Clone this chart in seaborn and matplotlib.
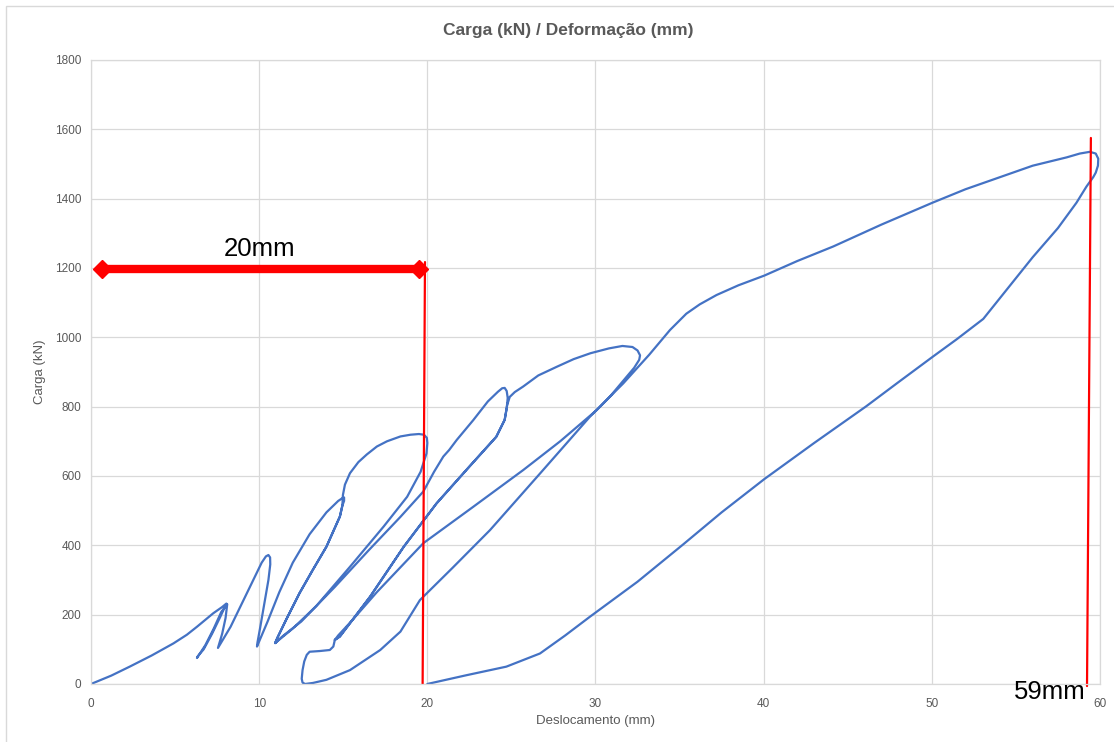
import matplotlib.pyplot as plt
import numpy as np
import pandas as pd
import seaborn as sns
from matplotlib.patches import Rectangle

# Excel-like look: white background, light grid
sns.set_style("whitegrid")
plt.rcParams["font.family"] = ["Liberation Sans Narrow", "Liberation Sans", "DejaVu Sans"]

BLUE = "#4472C4"
GREY_TXT = "#595959"
GRID = "#D9D9D9"

# --- load test loop, branch by branch (mm, kN)
load_p1_x = [0, 1.2, 2.3, 3.6, 4.9, 5.7, 6.3, 7.27, 7.8, 8.05]
load_p1_y = [0, 24, 50, 82, 117, 142, 165, 204, 222, 232]
unload_p1_x = [7.7, 7.2, 6.7, 6.35, 6.3]
unload_p1_y = [195, 145, 100, 80, 75]
reload_p1_x = [6.8, 7.3, 7.75, 8.05, 8.1]
reload_p1_y = [112, 160, 208, 226, 230]
unload_p1b_x = [8.0, 7.8, 7.6, 7.55]
unload_p1b_y = [190, 145, 112, 104]
load_p2_x = [8.3, 9.16, 9.8, 10.15, 10.4, 10.55, 10.65, 10.66]
load_p2_y = [165, 251, 315, 350, 368, 372, 365, 345]
unload_p2_x = [10.55, 10.3, 10.05, 9.9, 9.87]
unload_p2_y = [300, 230, 160, 120, 108]
load_p3_x = [10.5, 11.2, 12.0, 13.0, 14.0, 14.7, 14.95, 15.05]
load_p3_y = [180, 265, 350, 432, 495, 528, 536, 538]
unload_p3_x = [15.05, 14.95, 14.8, 14.0, 13.2, 12.4, 11.6, 11.1, 10.95]
unload_p3_y = [528, 515, 483, 396, 330, 262, 185, 135, 118]
reload_p3_x = [11.1, 11.6, 12.4, 13.2, 14.0, 14.8, 14.95]
reload_p3_y = [135, 185, 262, 330, 396, 483, 515]
load_p4_x = [14.98, 15.1, 15.4, 15.9, 16.4, 17.0, 17.6, 18.4, 19.0, 19.5, 19.8]
load_p4_y = [545, 575, 608, 640, 662, 685, 700, 714, 719, 721, 719]
unload_p4_x = [19.97, 20.0, 19.95, 19.6, 18.8, 17.4, 15.4, 13.4, 12.0, 11.2, 10.95]
unload_p4_y = [710, 695, 665, 612, 540, 454, 338, 225, 160, 128, 118]
load_p5_x = [11.4, 12.5, 14.5, 16.5, 18.4, 19.76, 20.4, 20.95, 21.3, 21.75, 22.73, 23.6,
             24.2, 24.45, 24.6]
load_p5_y = [138, 180, 280, 385, 482, 555, 612, 656, 675, 704, 761, 815, 843, 853, 854]
unload_p5_x = [24.72, 24.78, 24.72, 24.6, 24.1, 22.5, 20.55, 18.6, 16.6, 14.8, 14.5]
unload_p5_y = [845, 825, 795, 762, 713, 627, 521, 396, 252, 137, 127]
reload_p5_x = [14.8, 16.6, 18.6, 20.55, 22.5, 24.1, 24.6, 24.75]
reload_p5_y = [137, 252, 396, 521, 627, 713, 762, 805]
load_p6_x = [24.9, 25.2, 25.7, 26.6, 27.7, 28.7, 29.7, 30.8, 31.6, 32.2, 32.5]
load_p6_y = [828, 842, 858, 890, 915, 937, 954, 968, 975, 972, 962]
unload_p6_x = [32.65, 32.6, 32.3, 31.85, 30.86, 30.07, 27.9, 25.7, 22.7, 19.76, 17.0, 15.5,
               14.7, 14.5]
unload_p6_y = [948, 935, 912, 886, 829, 790, 700, 617, 510, 406, 265, 182, 140, 127]
unload_p6b_x = [14.41, 14.2, 13.6, 13.0, 12.83, 12.68, 12.58, 12.53, 12.58, 12.73]
unload_p6b_y = [108, 98, 95, 93, 84, 65, 40, 15, 4, 0]
load_p7_x = [13.2, 14.0, 15.4, 17.2, 18.4, 19.56, 21.5, 23.73, 26.7, 29.67, 31.65, 33.2,
             34.43, 35.4, 36.2, 37.2, 38.5, 40.04, 42.0, 44.14, 47.0, 50.03, 52.0, 54.05,
             56.0, 58.02, 58.8, 59.4, 59.75, 59.9, 59.88]
load_p7_y = [3, 12, 40, 98, 151, 242, 335, 444, 607, 771, 867, 950,
             1021, 1068, 1095, 1122, 1150, 1178, 1220, 1262, 1325, 1388, 1427, 1462,
             1495, 1519, 1530, 1535, 1530, 1515, 1495]
unload_p7_x = [59.75, 59.6, 59.2, 58.6, 57.5, 56.0, 54.5, 53.06, 51.5, 50.03, 48.0, 46.1,
               43.0, 40.04, 37.5, 35.2, 32.5, 29.67, 28.2, 26.7, 24.7, 22.3, 20.0]
unload_p7_y = [1475, 1462, 1435, 1388, 1315, 1231, 1140, 1053, 995, 943, 870, 801,
               695, 591, 495, 402, 295, 194, 140, 88, 50, 25, 0]

branches = [
    (load_p1_x, load_p1_y), (unload_p1_x, unload_p1_y), (reload_p1_x, reload_p1_y),
    (unload_p1b_x, unload_p1b_y), (load_p2_x, load_p2_y), (unload_p2_x, unload_p2_y),
    (load_p3_x, load_p3_y), (unload_p3_x, unload_p3_y), (reload_p3_x, reload_p3_y),
    (load_p4_x, load_p4_y), (unload_p4_x, unload_p4_y), (load_p5_x, load_p5_y),
    (unload_p5_x, unload_p5_y), (reload_p5_x, reload_p5_y), (load_p6_x, load_p6_y),
    (unload_p6_x, unload_p6_y), (unload_p6b_x, unload_p6b_y), (load_p7_x, load_p7_y),
    (unload_p7_x, unload_p7_y),
]
df = pd.DataFrame({
    "desloc": np.concatenate([b[0] for b in branches]),
    "carga": np.concatenate([b[1] for b in branches]),
})

fig = plt.figure(figsize=(11.14, 7.42), dpi=100)
ax = fig.add_axes([0.0817, 0.0782, 0.9057, 0.8410])

sns.lineplot(data=df, x="desloc", y="carga", sort=False, estimator=None,
             color=BLUE, linewidth=1.6, ax=ax)
ax.lines[0].set_solid_joinstyle("round")

ax.set_xlim(0, 60)
ax.set_ylim(0, 1800)
ax.set_xticks(range(0, 61, 10))
ax.set_yticks(range(0, 1801, 200))
ax.grid(True, color=GRID, linewidth=0.9)
for s in ax.spines.values():
    s.set_color(GRID)
    s.set_linewidth(0.9)
ax.tick_params(axis="both", length=0, labelsize=8.5, labelcolor=GREY_TXT)
ax.tick_params(axis="y", pad=7)
ax.tick_params(axis="x", pad=10)

ax.set_xlabel("Deslocamento (mm)", fontsize=9.5, color=GREY_TXT, va="center")
ax.set_ylabel("Carga (kN)", fontsize=9.5, color=GREY_TXT, va="center")
ax.xaxis.set_label_coords(0.5, -0.059)
ax.yaxis.set_label_coords(-0.0505, 0.5)

fig.text(568 / 1114, 1 - 31 / 742, "Carga (kN) / Deformação (mm)", ha="center", va="center",
         fontsize=12.5, fontweight="bold", color=GREY_TXT)

# red annotations drawn over the chart
ax.plot([19.86, 19.72], [1217, 0], color="red", linewidth=1.6)
ax.plot([59.46, 59.23], [1575, -6], color="red", linewidth=1.6, clip_on=False)
ax.plot([0.67, 19.5], [1197, 1197], color="red", linewidth=6, solid_capstyle="butt")
ax.plot([0.67, 19.5], [1197, 1197], linestyle="none", marker="D", markersize=9, color="red")
ax.text(10.0, 1255, "20mm", ha="center", va="center", fontsize=18.5, color="black")
ax.text(57.0, -23, "59mm", ha="center", va="center", fontsize=18.5, color="black", clip_on=False)

fig.add_artist(Rectangle((6 / 1114, -0.01), 1.0, 1 - 6 / 742 + 0.01, transform=fig.transFigure,
                         fill=False, edgecolor=GRID, linewidth=1))

fig.savefig("out.png", dpi=100)
